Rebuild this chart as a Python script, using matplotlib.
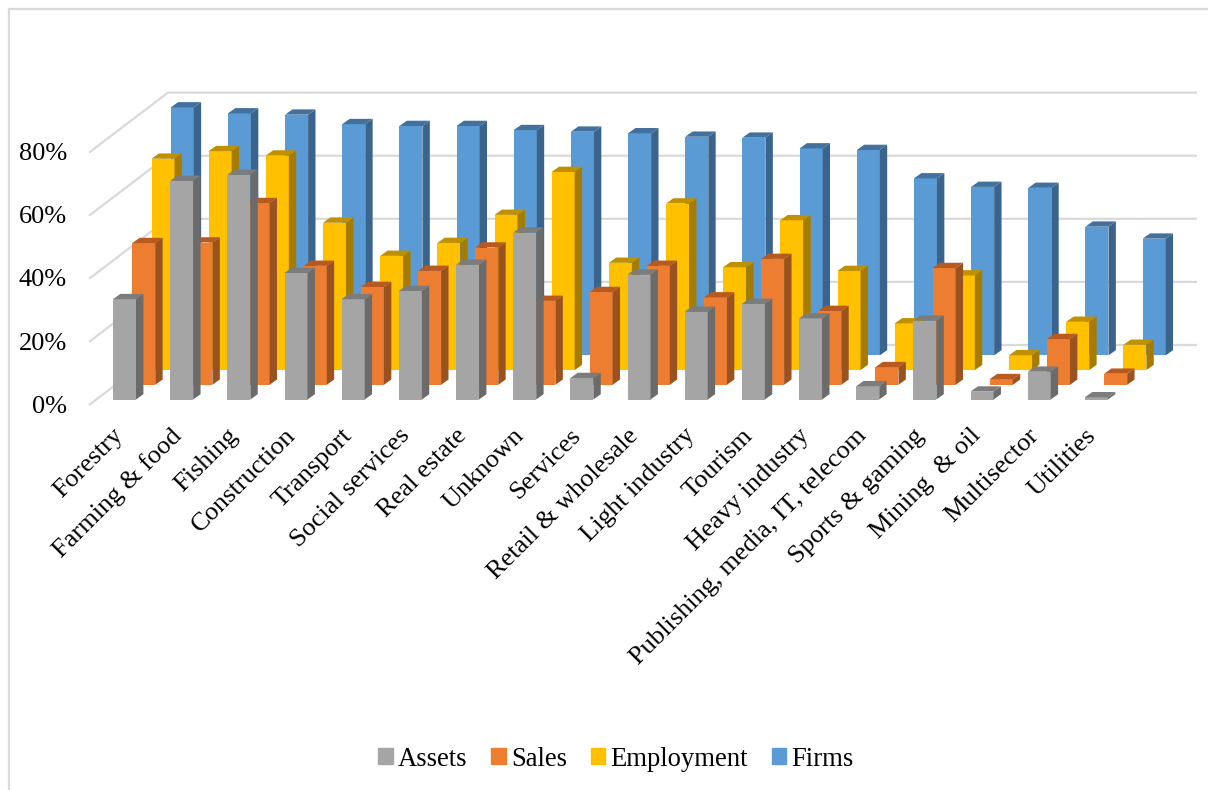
import numpy as np
import matplotlib
matplotlib.use("Agg")
import matplotlib.pyplot as plt
from matplotlib.patches import Patch, Rectangle
from matplotlib.transforms import ScaledTranslation

plt.rcParams['font.family'] = ['Liberation Serif', 'DejaVu Serif']

# Values (percent)
sectors = ['Forestry', 'Farming & food', 'Fishing', 'Construction', 'Transport',
           'Social services', 'Real estate', 'Unknown', 'Services', 'Retail & wholesale',
           'Light industry', 'Tourism', 'Heavy industry', 'Publishing, media, IT, telecom',
           'Sports & gaming', 'Mining  & oil', 'Multisector', 'Utilities']
assets = [31.8, 69.3, 71.2, 40.1, 31.8, 34.4, 42.7, 52.9, 6.8, 39.6, 27.8, 30.3, 25.7, 4.2, 25.0, 2.5, 8.8, 0.7]
sales = [44.9, 45.1, 57.6, 37.7, 31.0, 36.1, 43.5, 26.6, 29.4, 37.7, 27.7, 39.9, 23.4, 5.6, 37.0, 1.8, 14.5, 3.5]
employment = [67.0, 69.4, 68.0, 46.7, 36.2, 40.3, 49.2, 62.8, 34.0, 52.8, 32.6, 47.5, 31.4, 14.8, 30.0, 4.7, 15.3, 8.0]
firms = [78.6, 76.7, 76.3, 73.3, 72.7, 72.7, 71.4, 70.9, 70.4, 69.3, 69.0, 65.6, 65.1, 56.1, 53.4, 53.1, 40.8, 37.0]
y_ticks = [0, 20, 40, 60, 80]

W, H = 1208, 790
fig = plt.figure(figsize=(W / 100, H / 100), dpi=100)

# axes: left/right/top are the chart walls, bottom is the front floor edge
ax = fig.add_axes([89 / W, (H - 405) / H, (1197 - 89) / W, (405 - 93) / H])
px_x = 57.17   # pixels per category
px_y = 3.155   # pixels per percent
ax.set_xlim((89 - 124.5) / px_x, (1197 - 124.5) / px_x)
ax.set_ylim(0, 312 / px_y)
for s in ax.spines.values():
    s.set_visible(False)
ax.patch.set_visible(False)

# gridlines on floor side and back wall
wall_dx = 79 / px_x
wall_dy = 60 / px_y
xl, xr = ax.get_xlim()
for v in y_ticks:
    ax.plot([xl, xl + wall_dx, xr], [v, v + wall_dy, v + wall_dy], color='#D9D9D9',
            lw=1.6, zorder=1, clip_on=False, solid_capstyle='butt')

# bars, back row first
x = np.arange(len(sectors))
width = 23 / px_x
step_x = 19.25 / px_x
step_y = 14.7 / px_y
front_y = 5.5 / px_y
side_x = 7.4 / px_x
side_y = 5.3 / px_y

rows = [
    (3, firms, '#5B9BD5', '#3B648C', '#41719C'),
    (2, employment, '#FFC000', '#A67C00', '#BF9000'),
    (1, sales, '#ED7D31', '#9A5220', '#B85A20'),
    (0, assets, '#A5A5A5', '#6B6B6B', '#7C7C7C'),
]
z = 2
for row, vals, c_front, c_side, c_top in rows:
    base = front_y + row * step_y
    for xi, v in zip(x + row * step_x - width / 2, vals):
        top = base + v
        ax.bar(xi, v, width=width, bottom=base, align='edge', color=c_front, zorder=z, clip_on=False)
        ax.fill([xi + width, xi + width + side_x, xi + width + side_x, xi + width],
                [base, base + side_y, top + side_y, top], color=c_side, lw=0, zorder=z, clip_on=False)
        ax.fill([xi, xi + side_x, xi + width + side_x, xi + width],
                [top, top + side_y, top + side_y, top], color=c_top, lw=0, zorder=z, clip_on=False)
    z += 1

# tick labels
ax.set_yticks(y_ticks)
ax.set_yticklabels([f'{v}%' for v in y_ticks], fontsize=19, color='black')
ax.set_xticks(x)
ax.set_xticklabels(sectors, rotation=45, ha='right', rotation_mode='anchor', fontsize=19, color='black')
ax.tick_params(axis='y', length=0, pad=16)
ax.tick_params(axis='x', length=0, pad=14)
for lab in ax.get_xticklabels():
    lab.set_transform(lab.get_transform() + ScaledTranslation(-0.12, 0, fig.dpi_scale_trans))
for lab in ax.get_yticklabels():
    lab.set_transform(lab.get_transform() + ScaledTranslation(0, 0.008, fig.dpi_scale_trans))

# legend
handles = [Patch(color='#A5A5A5'), Patch(color='#ED7D31'), Patch(color='#FFC000'), Patch(color='#5B9BD5')]
fig.legend(handles, ['Assets', 'Sales', 'Employment', 'Firms'], ncol=4, frameon=False, fontsize=19.2,
           loc='center', bbox_to_anchor=(616 / W, (H - 759) / H), handlelength=0.53, handleheight=0.53,
           handletextpad=0.2, columnspacing=0.9)

# outer chart frame
fig.add_artist(Rectangle((9.2 / W, -0.02), 1.2, 1.02 + (H - 9) / H - 1, transform=fig.transFigure,
                         fill=False, ec='#D9D9D9', lw=1.6))

fig.savefig('out.png', dpi=100)
